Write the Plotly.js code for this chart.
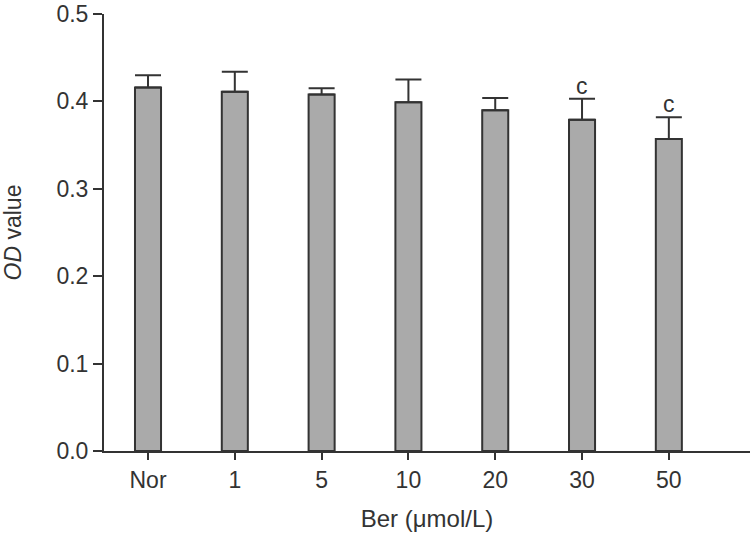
<!DOCTYPE html>
<html>
<head>
<meta charset="utf-8">
<script src="https://cdn.plot.ly/plotly-3.0.1.min.js"></script>
<style>
  body { margin: 0; background: #fff; }
  #odfig { width: 750px; height: 535px; }
</style>
</head>
<body>
<div id="odfig"></div>
<script>
var groups = ['Nor', '1', '5', '10', '20', '30', '50'];
var odValue = [0.416, 0.411, 0.408, 0.399, 0.390, 0.379, 0.357];
var odErr = [0.014, 0.023, 0.007, 0.026, 0.014, 0.024, 0.025];
var sigMark = ['', '', '', '', '', 'c', 'c'];
var yTicks = [0, 0.1, 0.2, 0.3, 0.4, 0.5];
var yTickText = ['0.0', '0.1', '0.2', '0.3', '0.4', '0.5'];

function myfig_od(x, y, err, marks) {
  var bars = {
    type: 'bar',
    x: x,
    y: y,
    width: 0.30,
    marker: { color: '#aaaaaa', line: { color: '#333', width: 2 } },
    error_y: {
      type: 'data',
      symmetric: false,
      array: err,
      arrayminus: err.map(function () { return 0; }),
      color: '#333',
      thickness: 2,
      width: 13
    },
    hoverinfo: 'none'
  };

  var font = { family: 'Liberation Sans, Arial, sans-serif', size: 23, color: '#333' };

  // significance letters; index used as x because the category names are numbers
  var notes = [];
  for (var i = 0; i < x.length; i++) {
    if (marks[i]) {
      notes.push({
        x: i, y: y[i] + err[i],
        xref: 'x', yref: 'y',
        yanchor: 'bottom', yshift: -2,
        text: marks[i], showarrow: false,
        font: font
      });
    }
  }

  var layout = {
    width: 750,
    height: 535,
    margin: { l: 104, r: 0, t: 14, b: 84 },
    paper_bgcolor: '#fff',
    plot_bgcolor: '#fff',
    showlegend: false,
    annotations: notes,
    xaxis: {
      type: 'category',
      range: [-0.507, 6.935],
      showgrid: false,
      zeroline: false,
      showline: true,
      linewidth: 2,
      linecolor: '#333',
      ticks: 'outside',
      ticklen: 7,
      tickwidth: 2,
      tickcolor: '#333',
      tickfont: font,
      title: { text: 'Ber (μmol/L)', standoff: 19, font: { family: font.family, size: 24, color: '#333' } }
    },
    yaxis: {
      range: [0, 0.5],
      tickvals: yTicks,
      ticktext: yTickText,
      ticklabeloverflow: 'allow',
      showgrid: false,
      zeroline: false,
      showline: true,
      linewidth: 2,
      linecolor: '#333',
      ticks: 'outside',
      ticklen: 9,
      tickwidth: 2,
      tickcolor: '#333',
      tickfont: font,
      title: { text: '<i>OD</i> value', standoff: 28, font: font }
    }
  };

  Plotly.newPlot('odfig', [bars], layout, { displayModeBar: false, staticPlot: true });
}

myfig_od(groups, odValue, odErr, sigMark);
</script>
</body>
</html>
